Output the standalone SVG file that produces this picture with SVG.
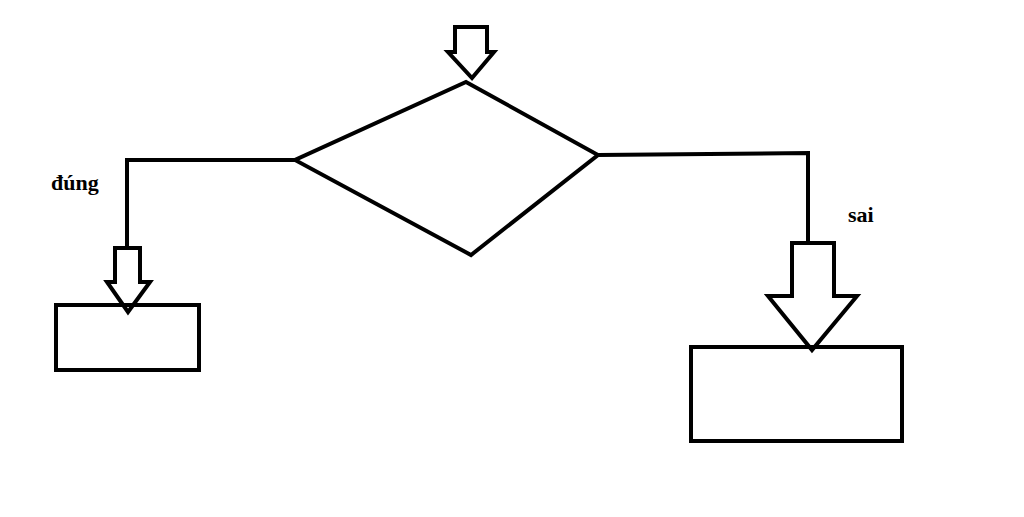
<svg xmlns="http://www.w3.org/2000/svg" width="1024" height="517" viewBox="0 0 1024 517">
<style>
.s{fill:none;stroke:#000;stroke-width:4;stroke-linejoin:miter}
.a{fill:#fff;stroke:#000;stroke-width:4}
.t{font-family:"Liberation Serif",serif;font-weight:bold;font-size:22px;fill:#000}
</style>
<rect width="1024" height="517" fill="#fff"/>
<g id="connectors">
<polyline class="s" points="295,160 127,160 127,248"/>
<polyline class="s" points="598,155 808,153 808,243"/>
</g>
<g id="arrow-top"><polygon class="a" points="455,27 487,27 487,52 494,52 472,78 448,52 455,52"/></g>
<g id="decision"><polygon class="s" points="466,82 598,155 471,255 295,160"/></g>
<g id="arrow-left"><polygon class="a" points="115,248 140,248 140,282 150,282 128,312 107,282 115,282"/></g>
<g id="arrow-right"><polygon class="a" points="792,243 834,243 834,296 857,296 812,350 768,296 792,296"/></g>
<g id="box-left"><rect class="s" x="56" y="305" width="143" height="65"/></g>
<g id="box-right"><rect class="s" x="691" y="347" width="211" height="94"/></g>
<text class="t" x="51" y="190">đúng</text>
<text class="t" x="848" y="222">sai</text>
</svg>
